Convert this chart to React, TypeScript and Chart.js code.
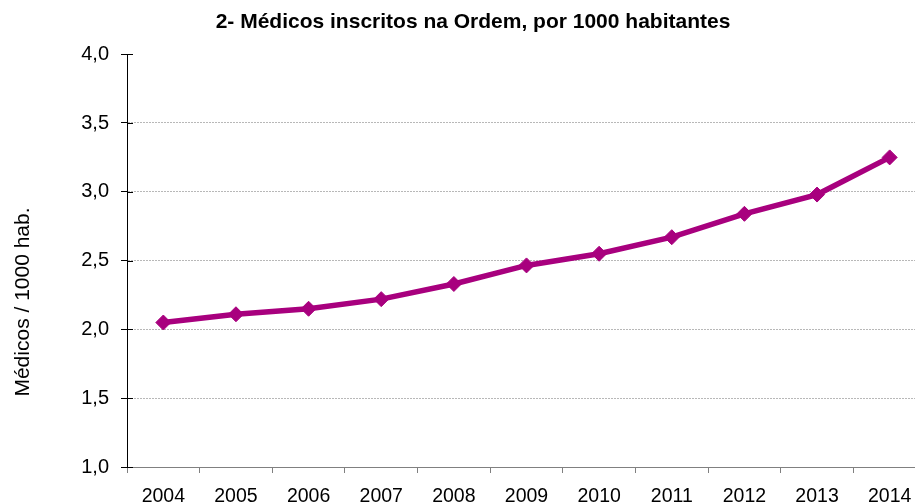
import React, { useEffect, useRef } from "react";
import { Chart, registerables } from "chart.js";

Chart.register(...registerables);

const years = ["2004", "2005", "2006", "2007", "2008", "2009", "2010", "2011", "2012", "2013", "2014"];
const medicosPor1000 = [2.05, 2.11, 2.15, 2.22, 2.33, 2.465, 2.55, 2.67, 2.84, 2.98, 3.25];
const yMin = 1;
const yMax = 4;
const yStep = 0.5;

const chartTitle = "2- Médicos inscritos na Ordem, por 1000 habitantes";
const yAxisTitle = "Médicos / 1000 hab.";

const FONT = '"Liberation Sans", Arial, Helvetica, sans-serif';
const LINE_COLOR = "#A8007E";

const extrasPlugin = {
  id: "extras",
  afterDraw(chart: any) {
    const ctx = chart.ctx;
    const y = chart.scales.y;
    ctx.save();
    // inner tick stubs on the y axis
    ctx.strokeStyle = "#000";
    ctx.lineWidth = 1;
    y.ticks.forEach((t: any) => {
      const py = Math.round(y.getPixelForValue(t.value)) + 0.5;
      ctx.beginPath();
      ctx.moveTo(y.right, py);
      ctx.lineTo(y.right + 6, py);
      ctx.stroke();
    });
    // y axis title
    ctx.fillStyle = "#000";
    ctx.font = `21px ${FONT}`;
    ctx.textAlign = "center";
    ctx.textBaseline = "middle";
    ctx.translate(23, 302);
    ctx.rotate(-Math.PI / 2);
    ctx.fillText(yAxisTitle, 0, 0);
    ctx.restore();
  },
};

export default function App() {
  const ref = useRef<HTMLCanvasElement | null>(null);

  useEffect(() => {
    if (!ref.current) return;
    const chart = new Chart(ref.current, {
      type: "line",
      data: {
        labels: years,
        datasets: [
          {
            data: medicosPor1000,
            borderColor: LINE_COLOR,
            backgroundColor: LINE_COLOR,
            borderWidth: 5.5,
            pointStyle: "rectRot",
            pointRadius: 7.5,
            pointBorderWidth: 1,
            pointBackgroundColor: LINE_COLOR,
            pointBorderColor: LINE_COLOR,
            tension: 0,
          },
        ],
      },
      options: {
        animation: false,
        responsive: false,
        devicePixelRatio: 1,
        layout: { padding: { left: 20, right: 14, top: 0, bottom: 0 } },
        plugins: {
          legend: { display: false },
          tooltip: { enabled: false },
          title: {
            display: true,
            text: chartTitle,
            color: "#000",
            font: { family: FONT, size: 21, weight: "bold" },
            padding: { top: 10, bottom: 19 },
          },
        },
        scales: {
          x: {
            type: "category",
            offset: true,
            grid: {
              offset: true,
              drawOnChartArea: false,
              drawTicks: true,
              tickLength: 6,
              tickColor: "#808080",
            },
            border: { display: true, color: "#808080", width: 1 },
            ticks: {
              color: "#000",
              font: { family: FONT, size: 19.5 },
              padding: 12,
              maxRotation: 0,
              autoSkip: false,
            },
            afterFit(scale: any) {
              scale.height = 37;
            },
          },
          y: {
            min: yMin,
            max: yMax,
            grid: {
              color: (c: any) =>
                c.tick && (c.tick.value === yMin || c.tick.value === yMax) ? "rgba(0,0,0,0)" : "#B8B8B8",
              tickColor: "#000",
              tickLength: 6,
              lineWidth: 1,
            },
            border: { display: true, color: "#000", width: 1, dash: [2, 1] },
            ticks: {
              stepSize: yStep,
              color: "#000",
              font: { family: FONT, size: 20 },
              padding: 12,
              callback: (v: any) => Number(v).toFixed(1).replace(".", ","),
            },
            afterFit(scale: any) {
              scale.width = 107;
            },
          },
        },
      },
      plugins: [extrasPlugin],
    });
    return () => chart.destroy();
  }, []);

  return (
    <div style={{ position: "absolute", left: 0, top: 0, width: 915, height: 504, overflow: "hidden", background: "#fff" }}>
      <canvas ref={ref} width={940} height={504} style={{ display: "block" }} />
    </div>
  );
}
